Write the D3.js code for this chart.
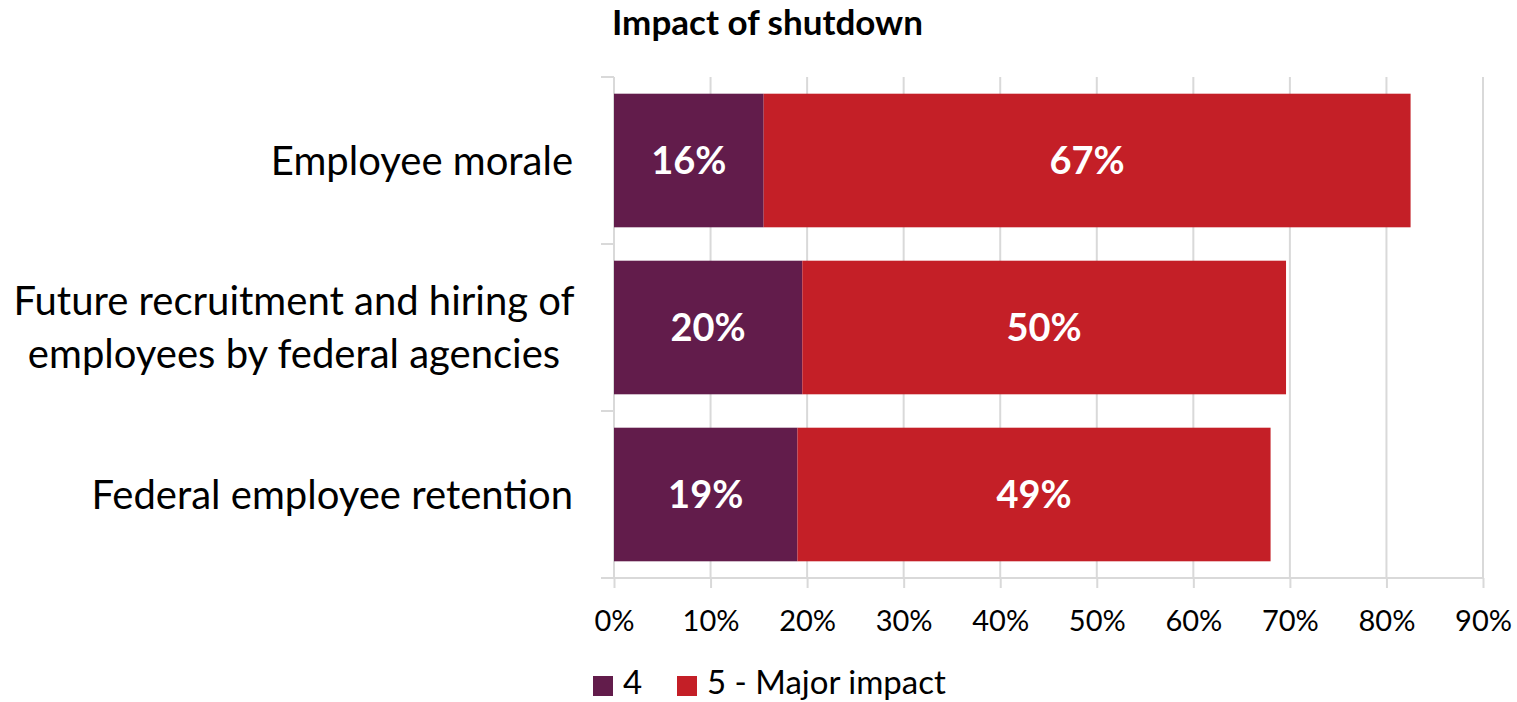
<!DOCTYPE html>
<html><head><meta charset="utf-8">
<script src="https://cdn.jsdelivr.net/npm/d3@7"></script>
<style>body{margin:0;background:#fff;} svg{display:block;font-family:Lato,"Open Sans",sans-serif;}</style>
</head><body>
<svg id="c" width="1517" height="702"></svg>
<script>
const categories = [["Employee morale"], ["Future recruitment and hiring of", "employees by federal agencies"], ["Federal employee retention"]];
const seriesNames = ["4", "5 - Major impact"];
const values4 = [15.5, 19.5, 19.0];
const values5 = [67.0, 50.1, 49.0];
const labels4 = ["16%", "20%", "19%"];
const labels5 = ["67%", "50%", "49%"];
const xTicks = [0, 10, 20, 30, 40, 50, 60, 70, 80, 90];
const colors = ["#621C4B", "#C41F27"];

const svg = d3.select("#c");
const keys = categories.map(d => d.join(" "));
const x = d3.scaleLinear().domain([0, 90]).range([614, 1483]);
const y = d3.scaleBand().domain(keys).range([77, 578]).paddingInner(0.2).paddingOuter(0.1);

svg.append("text").attr("x", 612).attr("y", 35).attr("font-size", 35).attr("font-weight", "bold").attr("fill", "#000").text("Impact of shutdown");

// gridlines
svg.append("g").selectAll("line").data(xTicks.slice(1)).join("line")
  .attr("x1", d => x(d)).attr("x2", d => x(d)).attr("y1", 77).attr("y2", 578)
  .attr("stroke", "#d9d9d9").attr("stroke-width", 2);

// bottom axis
const xa = svg.append("g").attr("transform", "translate(0,578)")
  .call(d3.axisBottom(x).tickValues(xTicks).tickFormat(d => d + "%").tickSize(10).tickSizeOuter(0).tickPadding(22));
xa.select(".domain").remove();
xa.append("line").attr("x1", 601).attr("x2", 1483).attr("stroke", "#d9d9d9").attr("stroke-width", 2);
xa.selectAll(".tick line").attr("stroke", "#d9d9d9").attr("stroke-width", 2);
xa.selectAll(".tick text").attr("font-size", 29).attr("fill", "#000").attr("font-family", "Lato,sans-serif");

// left axis
const yEdges = [77, 244, 411, 578];
svg.append("line").attr("x1", 614).attr("x2", 614).attr("y1", 77).attr("y2", 578).attr("stroke", "#d9d9d9").attr("stroke-width", 2);
svg.append("g").selectAll("line").data(yEdges).join("line")
  .attr("x1", 601).attr("x2", 614).attr("y1", d => d).attr("y2", d => d)
  .attr("stroke", "#d9d9d9").attr("stroke-width", 2);

// bars
const rows = keys.map((k, i) => ({k, v4: values4[i], v5: values5[i], l4: labels4[i], l5: labels5[i], lines: categories[i]}));
const g = svg.append("g");
g.selectAll("rect.s4").data(rows).join("rect").attr("class", "s4")
  .attr("x", x(0)).attr("y", d => y(d.k)).attr("width", d => x(d.v4) - x(0)).attr("height", y.bandwidth()).attr("fill", colors[0]);
g.selectAll("rect.s5").data(rows).join("rect").attr("class", "s5")
  .attr("x", d => x(d.v4)).attr("y", d => y(d.k)).attr("width", d => x(d.v4 + d.v5) - x(d.v4)).attr("height", y.bandwidth()).attr("fill", colors[1]);

g.selectAll("text.l4").data(rows).join("text").attr("class", "l4")
  .attr("x", d => x(d.v4 / 2)).attr("y", d => y(d.k) + y.bandwidth() / 2).attr("dy", "0.36em")
  .attr("text-anchor", "middle").attr("font-size", 38).attr("font-weight", "bold").attr("fill", "#fff").text(d => d.l4);
g.selectAll("text.l5").data(rows).join("text").attr("class", "l5")
  .attr("x", d => x(d.v4 + d.v5 / 2)).attr("y", d => y(d.k) + y.bandwidth() / 2).attr("dy", "0.36em")
  .attr("text-anchor", "middle").attr("font-size", 38).attr("font-weight", "bold").attr("fill", "#fff").text(d => d.l5);

// category labels
rows.forEach(d => {
  const cy = y(d.k) + y.bandwidth() / 2;
  const n = d.lines.length;
  const t = svg.append("text").attr("font-size", 40).attr("fill", "#000");
  if (n === 1) {
    t.attr("x", 573).attr("y", cy).attr("dy", "0.36em").attr("text-anchor", "end").text(d.lines[0]);
  } else {
    t.attr("text-anchor", "middle");
    d.lines.forEach((ln, j) => {
      t.append("tspan").attr("x", 294).attr("y", cy + (j - (n - 1) / 2) * 53).attr("dy", "0.36em").text(ln);
    });
  }
});

// legend
const leg = svg.append("g");
const legX = [593, 677];
seriesNames.forEach((s, i) => {
  leg.append("rect").attr("x", legX[i]).attr("y", 676).attr("width", 20).attr("height", 20).attr("fill", colors[i]);
  leg.append("text").attr("x", legX[i] + 30).attr("y", 694).attr("font-size", 33).attr("fill", "#000").text(s);
});
</script>
</body></html>
